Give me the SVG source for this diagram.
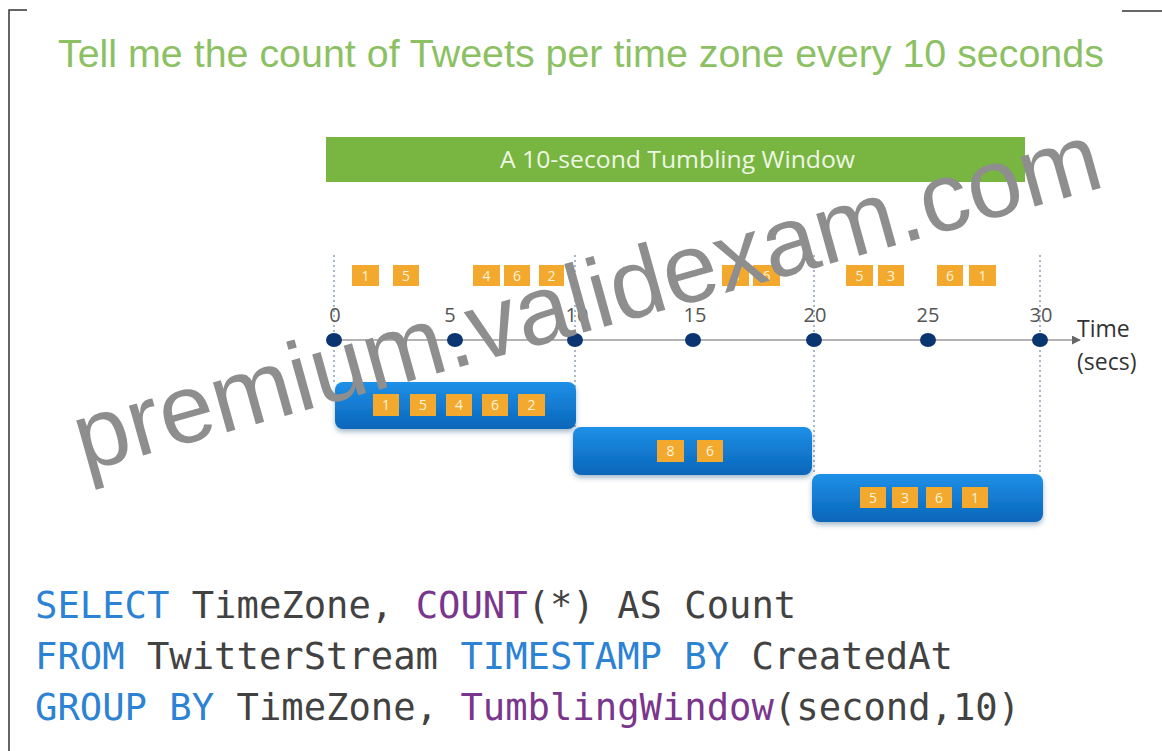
<svg xmlns="http://www.w3.org/2000/svg" width="1162" height="751" viewBox="0 0 1162 751">
  <defs>
    <linearGradient id="winFill" x1="0" y1="0" x2="0" y2="1">
      <stop offset="0" stop-color="#1f90e8"/>
      <stop offset="1" stop-color="#0866b9"/>
    </linearGradient>
    <filter id="winShadow" x="-10%" y="-20%" width="120%" height="160%">
      <feDropShadow dx="0" dy="3" stdDeviation="2.5" flood-color="#0a3a6a" flood-opacity="0.35"/>
    </filter>
    <marker id="axisArrow" viewBox="0 0 10 10" refX="9" refY="5" markerWidth="9" markerHeight="9" markerUnits="userSpaceOnUse" orient="auto">
      <path d="M0,0 L10,5 L0,10 z" fill="#666"/>
    </marker>
    <style>
      .frame { stroke: #333; stroke-width: 1.5; fill: none; }
      .title { font-family: "Liberation Sans", Arial, sans-serif; font-size: 39.4px; fill: #8cc163; }
      .banner-text { font-family: "Open Sans", "Noto Sans", sans-serif; font-size: 24px; fill: #eef7e4; }
      .tick { font-family: "Open Sans", "Noto Sans", sans-serif; font-size: 20px; fill: #555; text-anchor: middle; }
      .unit { font-family: "Open Sans", "Noto Sans", sans-serif; font-size: 23px; fill: #333; }
      .dot { fill: #0b3570; }
      .guide { stroke: #8aa0bd; stroke-width: 1.5; stroke-dasharray: 2 3; fill: none; }
      .axis { stroke: #9a9a9a; stroke-width: 1.6; fill: none; }
      .ev .tag { fill: #f2a92e; }
      .ev text { font-family: "Open Sans", "Noto Sans", sans-serif; font-size: 14px; fill: #fff4dc; text-anchor: middle; }
      .ev .win { fill: url(#winFill); filter: url(#winShadow); }
      .code { font-family: "DejaVu Sans Mono", "Liberation Mono", monospace; font-size: 37.2px; fill: #424242; }
      .kw { fill: #2c82d3; }
      .fn { fill: #7a358c; }
      .wm { font-family: "Liberation Sans", Arial, sans-serif; font-size: 98px; fill: #8e8e8e; }
    </style>
  </defs>

  <rect width="1162" height="751" fill="#ffffff"/>

  <!-- page frame corners -->
  <g id="frame">
    <path class="frame" d="M9,751 L9,10 L27,10"/>
    <path class="frame" d="M1122,11 L1162,11"/>
  </g>

  <g id="title">
    <text class="title" x="58" y="67">Tell me the count of Tweets per time zone every 10 seconds</text>
  </g>

  <g id="window-banner">
    <rect x="326" y="137" width="699" height="45" fill="#78b541"/>
    <text class="banner-text" x="500" y="168" textLength="355" lengthAdjust="spacingAndGlyphs">A 10-second Tumbling Window</text>
  </g>

  <!-- axis and window boundary guides -->
  <g id="connectors">
    <line class="guide" x1="334" y1="255" x2="334" y2="382"/>
    <line class="guide" x1="575" y1="255" x2="575" y2="427"/>
    <line class="guide" x1="814" y1="255" x2="814" y2="474"/>
    <line class="guide" x1="1040" y1="255" x2="1040" y2="474"/>
    <line class="axis" x1="334" y1="340" x2="1080" y2="340" marker-end="url(#axisArrow)"/>
  </g>

  <g id="ticks">
    <ellipse class="dot" cx="334" cy="340" rx="8" ry="7"/>
    <ellipse class="dot" cx="455" cy="340" rx="8" ry="7"/>
    <ellipse class="dot" cx="575" cy="340" rx="8" ry="7"/>
    <ellipse class="dot" cx="693" cy="340" rx="8" ry="7"/>
    <ellipse class="dot" cx="814" cy="340" rx="8" ry="7"/>
    <ellipse class="dot" cx="928" cy="340" rx="8" ry="7"/>
    <ellipse class="dot" cx="1040" cy="340" rx="8" ry="7"/>
    <text class="tick" x="335" y="322">0</text>
    <text class="tick" x="450" y="322">5</text>
    <text class="tick" x="577" y="322">10</text>
    <text class="tick" x="695" y="322">15</text>
    <text class="tick" x="815" y="322">20</text>
    <text class="tick" x="928" y="322">25</text>
    <text class="tick" x="1041" y="322">30</text>
    <text class="unit" x="1077" y="337">Time</text>
    <text class="unit" x="1077" y="370">(secs)</text>
  </g>

  <!-- incoming events on the timeline -->
  <g id="events" class="ev">
    <rect class="tag" x="352" y="265" width="27" height="21"/><text x="365.5" y="281">1</text>
    <rect class="tag" x="393" y="265" width="26" height="21"/><text x="406" y="281">5</text>
    <rect class="tag" x="473" y="265" width="27" height="21"/><text x="486.5" y="281">4</text>
    <rect class="tag" x="504" y="265" width="26" height="21"/><text x="517" y="281">6</text>
    <rect class="tag" x="539" y="265" width="25" height="21"/><text x="551.5" y="281">2</text>
    <rect class="tag" x="722" y="265" width="27" height="21"/><text x="735.5" y="281">8</text>
    <rect class="tag" x="753" y="265" width="27" height="21"/><text x="766.5" y="281">6</text>
    <rect class="tag" x="846" y="265" width="27" height="21"/><text x="859.5" y="281">5</text>
    <rect class="tag" x="878" y="265" width="26" height="21"/><text x="891" y="281">3</text>
    <rect class="tag" x="937" y="265" width="26" height="21"/><text x="950" y="281">6</text>
    <rect class="tag" x="969" y="265" width="27" height="21"/><text x="982.5" y="281">1</text>
  </g>

  <!-- window 0-10 s -->
  <g id="window-1" class="ev">
    <rect class="win" x="335" y="382" width="241" height="47" rx="8"/>
    <rect class="tag" x="373" y="394" width="26" height="22"/><text x="386" y="410">1</text>
    <rect class="tag" x="410" y="394" width="26" height="22"/><text x="423" y="410">5</text>
    <rect class="tag" x="446" y="394" width="26" height="22"/><text x="459" y="410">4</text>
    <rect class="tag" x="482" y="394" width="26" height="22"/><text x="495" y="410">6</text>
    <rect class="tag" x="518" y="394" width="27" height="22"/><text x="531.5" y="410">2</text>
  </g>

  <!-- window 10-20 s -->
  <g id="window-2" class="ev">
    <rect class="win" x="573" y="427" width="239" height="48" rx="8"/>
    <rect class="tag" x="657" y="440" width="27" height="22"/><text x="670.5" y="456">8</text>
    <rect class="tag" x="697" y="440" width="26" height="22"/><text x="710" y="456">6</text>
  </g>

  <!-- window 20-30 s -->
  <g id="window-3" class="ev">
    <rect class="win" x="812" y="474" width="231" height="48" rx="8"/>
    <rect class="tag" x="860" y="487" width="26" height="21"/><text x="873" y="503">5</text>
    <rect class="tag" x="892" y="487" width="26" height="21"/><text x="905" y="503">3</text>
    <rect class="tag" x="926" y="487" width="26" height="21"/><text x="939" y="503">6</text>
    <rect class="tag" x="962" y="487" width="26" height="21"/><text x="975" y="503">1</text>
  </g>

  <g id="query">
    <text class="code" x="35" y="618"><tspan class="kw">SELECT</tspan> TimeZone, <tspan class="fn">COUNT</tspan>(*) AS Count</text>
    <text class="code" x="35" y="669"><tspan class="kw">FROM</tspan> TwitterStream <tspan class="kw">TIMESTAMP BY</tspan> CreatedAt</text>
    <text class="code" x="35" y="720"><tspan class="kw">GROUP BY</tspan> TimeZone, <tspan class="fn">TumblingWindow</tspan>(second,10)</text>
  </g>

  <g id="watermark">
    <text class="wm" x="84" y="472" transform="rotate(-15.6 84 472)">premium.validexam.com</text>
  </g>
</svg>
